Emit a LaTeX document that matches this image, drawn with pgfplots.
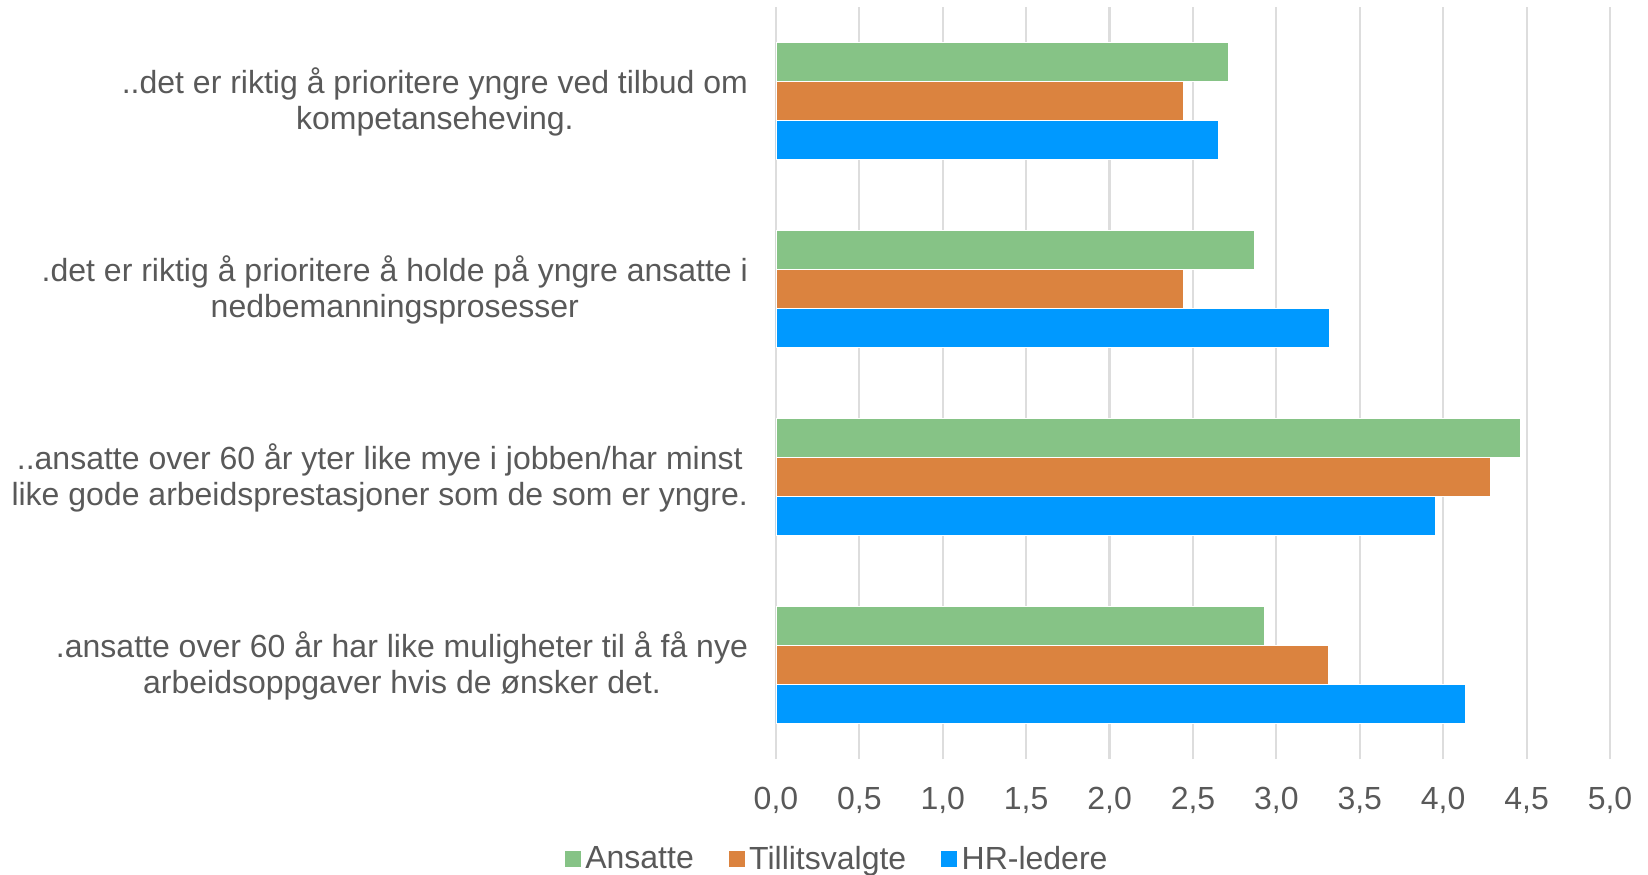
\documentclass[border=0pt]{standalone}
\usepackage{fontspec}
\setmainfont{Liberation Sans}
\usepackage{pgfplots}
\pgfplotsset{compat=1.18}
\definecolor{cAns}{HTML}{86C386}
\definecolor{cTil}{HTML}{DB833F}
\definecolor{cHR}{HTML}{0099FF}
\definecolor{txt}{HTML}{595959}
\definecolor{gridc}{HTML}{DDDDDD}

\begin{document}
\begin{tikzpicture}
\begin{axis}[
  scale only axis, width=417pt, height=376pt,
  xbar, bar width=0.207,
  xmin=0, xmax=5, ymin=-0.5, ymax=3.5,
  xtick={0,0.5,...,5},
  ytick={0,1,2,3},
  yticklabels={
    {.ansatte over 60 år har like muligheter til å få nye\\arbeidsoppgaver hvis de ønsker det.},
    {..ansatte over 60 år yter like mye i jobben/har minst\\like gode arbeidsprestasjoner som de som er yngre.},
    {.det er riktig å prioritere å holde på yngre ansatte i\\nedbemanningsprosesser},
    {..det er riktig å prioritere yngre ved tilbud om\\kompetanseheving.}},
  yticklabel style={align=center, font=\fontsize{16}{18.4}\selectfont, text=txt, xshift=-10.5pt, yshift=-0.5pt},
  xticklabel style={font=\fontsize{16}{18.4}\selectfont, text=txt, yshift=-10.5pt},
  /pgf/number format/.cd, use comma, fixed, fixed zerofill, precision=1, assume math mode=true, /pgfplots/.cd,
  major tick length=0pt,
  axis line style={draw=none},
  xmajorgrids, grid style={draw=gridc, line width=1.1pt},
  legend style={draw=none, at={(0.074,-0.133)}, anchor=center, legend columns=-1,
    font=\fontsize{16}{18.4}\selectfont, text=txt,
    /tikz/every even column/.append style={column sep=15pt}},
  legend image code/.code={\fill[#1] (0pt,-4.2pt) rectangle (8.4pt,4.2pt);},
]
\addplot[fill=cAns, draw=white, line width=0.3pt, bar shift=0.207] coordinates {(2.93,0) (4.46,1) (2.87,2) (2.71,3)};
\addlegendentry{Ansatte}
\addplot[fill=cTil, draw=white, line width=0.3pt, bar shift=0] coordinates {(3.31,0) (4.28,1) (2.44,2) (2.44,3)};
\addlegendentry{Tillitsvalgte}
\addplot[fill=cHR, draw=white, line width=0.3pt, bar shift=-0.207] coordinates {(4.13,0) (3.95,1) (3.32,2) (2.65,3)};
\addlegendentry{HR-ledere}
\end{axis}
\pgfresetboundingbox
\path[use as bounding box] (-388pt,-57.5pt) rectangle (436pt,379.5pt);
\end{tikzpicture}
\end{document}
